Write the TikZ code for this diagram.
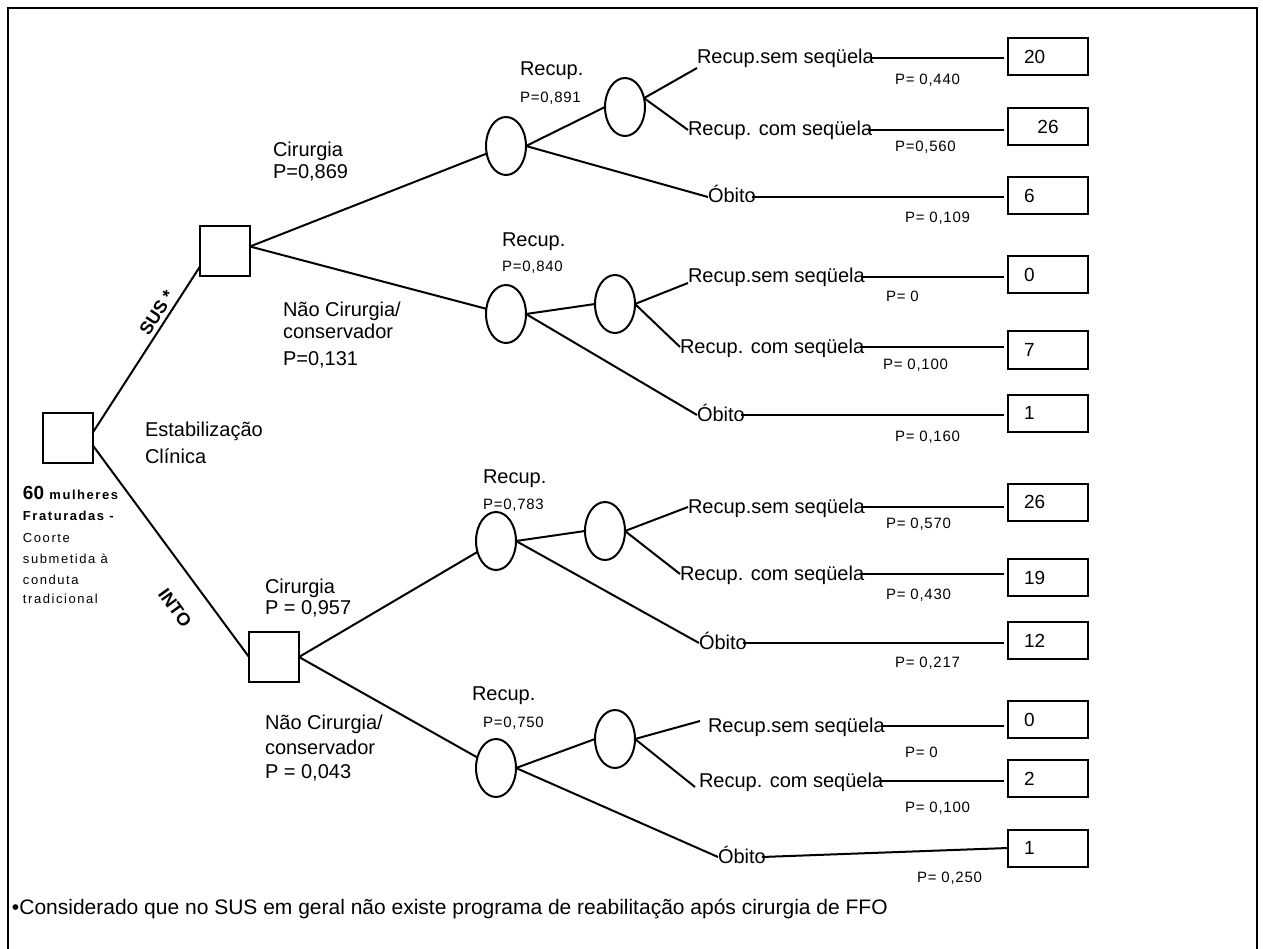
\documentclass[tikz,border=0pt]{standalone}
\usepackage{fontspec}
\setmainfont{Liberation Sans}
\newfontfamily\spacedfont[LetterSpace=12]{Liberation Sans}
\newfontfamily\probfont[LetterSpace=5]{Liberation Sans}
\usetikzlibrary{shapes.geometric}
\newcommand\myfs[1]{\fontsize{#1}{#1}\selectfont}
\newcommand\numtxt[1]{\makebox[48pt][l]{#1}}
\begin{document}
\begin{tikzpicture}[x=1pt,y=-1pt,
  every node/.style={inner sep=0pt, outer sep=0pt},
  edge/.style={line width=2pt},
  decision/.style={draw, line width=2pt, minimum size=50pt},
  chance/.style={draw, ellipse, line width=2pt, minimum width=40pt, minimum height=58pt},
  outcome/.style={draw, line width=2pt, minimum width=80pt, minimum height=37pt, font={\myfs{19}}},
  lbl/.style={anchor=base west, font={\myfs{20}}},
  term/.style={anchor=base west, font={\myfs{20}}, text height=12pt, text depth=0pt},
  prob/.style={anchor=base west, font={\probfont\myfs{15}}},
  branchlbl/.style={font={\bfseries\myfs{18}}},
  small/.style={anchor=base west, font={\spacedfont\myfs{13}}},
]
\useasboundingbox (0,0) rectangle (1263,949);
% frame
\draw[line width=2pt] (8,949) -- (8,8) -- (1257,8) -- (1257,949);

% decision nodes
\node[decision] (root) at (67.5,438) {};
\node[decision] (sus) at (225,251.5) {};
\node[decision] (into) at (274,657) {};

% chance nodes
\node[chance] (ca1) at (506,146) {};
\node[chance] (ca2) at (625,107) {};
\node[chance] (cb1) at (506,314) {};
\node[chance] (cb2) at (615,304) {};
\node[chance] (cc1) at (496,541) {};
\node[chance] (cc2) at (605,531) {};
\node[chance] (cd1) at (496,768) {};
\node[chance] (cd2) at (615,739) {};

% outcome boxes
\node[outcome] (oa1) at (1048,57) {\numtxt{20}};
\node[outcome] (oa2) at (1048,126.5) {26};
\node[outcome] (oa3) at (1048,195.5) {\numtxt{6}};
\node[outcome] (ob1) at (1048,274.5) {\numtxt{0}};
\node[outcome] (ob2) at (1048,350) {\numtxt{7}};
\node[outcome] (ob3) at (1048,413) {\numtxt{1}};
\node[outcome] (oc1) at (1048,502) {\numtxt{26}};
\node[outcome] (oc2) at (1048,577.5) {\numtxt{19}};
\node[outcome] (oc3) at (1048,640.5) {\numtxt{12}};
\node[outcome] (od1) at (1048,719.5) {\numtxt{0}};
\node[outcome] (od2) at (1048,778.5) {\numtxt{2}};
\node[outcome] (od3) at (1048,848) {\numtxt{1}};

% terminal outcome texts
\node[term] (ta1) at (697,64) {Recup.sem seqüela};
\node[term] (ta2) at (688,136) {Recup. com seqüela};
\node[term] (ta3) at (708,203) {Óbito};
\node[term] (tb1) at (688,283) {Recup.sem seqüela};
\node[term] (tb2) at (680,353) {Recup. com seqüela};
\node[term] (tb3) at (697,421) {Óbito};
\node[term] (tc1) at (688,513) {Recup.sem seqüela};
\node[term] (tc2) at (680,580) {Recup. com seqüela};
\node[term] (tc3) at (699,649) {Óbito};
\node[term] (td1) at (708,732) {Recup.sem seqüela};
\node[term] (td2) at (699,787) {Recup. com seqüela};
\node[term] (td3) at (718,863) {Óbito};

% branches from the root
\draw[edge] ([yshift=5pt]root.east) -- ([yshift=10pt]sus.south west);
\draw[edge] ([yshift=-7pt]root.east) -- (into.west);
\node[branchlbl, rotate=57] (suslbl) at (157,313) {SUS *};
\node[branchlbl, rotate=-54] (intolbl) at (175,608) {INTO};

% treatment branches
\draw[edge] ([yshift=5pt]sus.east) -- (ca1);
\draw[edge] ([yshift=5pt]sus.east) -- (cb1);
\draw[edge] (into.east) -- (cc1);
\draw[edge] (into.east) -- (cd1);

% SUS, surgery
\draw[edge] (ca1.east) -- (ca2.west);
\draw[edge] (ca1.east) -- (ta3.west);
\draw[edge] (ca2.25) -- ([yshift=-4pt]ta1.south west);
\draw[edge] (ca2.25) -- (ta2.west);
% SUS, conservative
\draw[edge] (cb1.east) -- (cb2.west);
\draw[edge] (cb1.east) -- (tb3.west);
\draw[edge] (cb2.east) -- (tb1.south west);
\draw[edge] (cb2.east) -- (tb2.west);
% INTO, surgery
\draw[edge] (cc1.east) -- (cc2.west);
\draw[edge] (cc1.east) -- (tc3.west);
\draw[edge] (cc2.east) -- (tc1.west);
\draw[edge] (cc2.east) -- (tc2.west);
% INTO, conservative
\draw[edge] (cd1.east) -- (cd2.west);
\draw[edge] (cd1.east) -- (td3.west);
\draw[edge] (cd2.east) -- ([xshift=-8pt,yshift=5pt]td1.west);
\draw[edge] (cd2.east) -- ([xshift=-4pt]td2.base west);

% lines to the outcome boxes
\foreach \t/\o in {ta1/oa1,ta2/oa2,ta3/oa3,tb1/ob1,tb2/ob2,tb3/ob3,tc1/oc1,tc2/oc2,tc3/oc3,td1/od1,td2/od2}
  \draw[edge] ([xshift=-4pt]\t.east) -- ([xshift=-4pt]\t.east -| \o.west);
\draw[edge] ([xshift=-4pt]td3.east) -- (od3.west);

% branch labels
\node[lbl] (la1) at (273,157) {Cirurgia};
\node[lbl] (la2) at (273,179) {P=0,869};
\node[lbl] (lb1) at (283,317) {Não Cirurgia/};
\node[lbl] (lb2) at (283,339) {conservador};
\node[lbl] (lb3) at (283,365) {P=0,131};
\node[lbl] (lc1) at (265,593) {Cirurgia};
\node[lbl] (lc2) at (265,614) {P = 0,957};
\node[lbl] (ld1) at (265,729) {Não Cirurgia/};
\node[lbl] (ld2) at (265,754) {conservador};
\node[lbl] (ld3) at (265,778) {P = 0,043};
\node[lbl] (st1) at (145,436) {Estabilização};
\node[lbl] (st2) at (145,463) {Clínica};

% recovery labels
\node[lbl] (ra1) at (520,76) {Recup.};
\node[prob] (ra2) at (520,103) {P=0,891};
\node[lbl] (rb1) at (502,247) {Recup.};
\node[prob] (rb2) at (502,272) {P=0,840};
\node[lbl] (rc1) at (483,483) {Recup.};
\node[prob] (rc2) at (483,509) {P=0,783};
\node[lbl] (rd1) at (472,700) {Recup.};
\node[prob] (rd2) at (483,727) {P=0,750};

% outcome probabilities
\node[prob] (pa1) at (895,85) {P= 0,440};
\node[prob] (pa2) at (895,152) {P=0,560};
\node[prob] (pa3) at (905,223) {P= 0,109};
\node[prob] (pb1) at (886,302) {P= 0};
\node[prob] (pb2) at (883,370) {P= 0,100};
\node[prob] (pb3) at (895,441) {P= 0,160};
\node[prob] (pc1) at (886,528) {P= 0,570};
\node[prob] (pc2) at (886,599) {P= 0,430};
\node[prob] (pc3) at (895,667) {P= 0,217};
\node[prob] (pd1) at (905,757) {P= 0};
\node[prob] (pd2) at (905,812) {P= 0,100};
\node[prob] (pd3) at (917,882) {P= 0,250};

% cohort description
\node[anchor=base west] (rt1) at (23,499) {\bfseries\myfs{19}60 {\spacedfont\myfs{13}mulheres}};
\node[small] (rt2) at (23,520) {\bfseries Fraturadas -};
\node[small] (rt3) at (23,542) {Coorte};
\node[small] (rt4) at (23,563) {submetida à};
\node[small] (rt5) at (23,584) {conduta};
\node[small] (rt6) at (23,603) {tradicional};

% footnote
\node[anchor=base west, font={\myfs{21}}] (note) at (12,914) {\textbullet Considerado que no SUS em geral não existe programa de reabilitação após cirurgia de FFO};
\end{tikzpicture}
\end{document}
